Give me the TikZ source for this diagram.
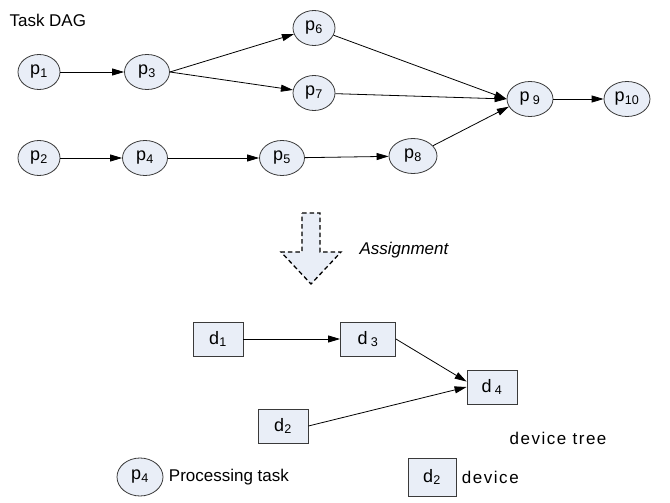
\documentclass[tikz,border=0pt]{standalone}
\usepackage{fontspec}
\setmainfont{Liberation Sans}
\newfontfamily\widefont[LetterSpace=9]{Liberation Sans}
\usetikzlibrary{shapes.geometric,arrows.meta}
\definecolor{boxfill}{HTML}{E9EEF7}
\definecolor{boxline}{HTML}{3A3A3A}
\newcommand{\ix}[1]{\textsubscript{#1}}

\begin{document}
\begin{tikzpicture}[x=1pt,y=-1pt,
  font=\fontsize{18}{21}\selectfont,
  task/.style={ellipse, draw=boxline, line width=0.8pt, fill=boxfill, minimum width=42pt, minimum height=35pt, inner sep=0pt},
  dev/.style={rectangle, draw=boxline, line width=0.8pt, fill=boxfill, minimum width=50pt, minimum height=34pt, inner sep=0pt},
  label/.style={font=\fontsize{17}{20}\selectfont},
  link/.style={-{Triangle[length=12pt,width=7pt]}, black, line width=0.8pt}]
\useasboundingbox (0,0) rectangle (670,503);

% task graph
\node[anchor=west, label] (title) at (6,20) {Task DAG};
\node[task] (p1) at (39,72) {p\ix{1}};
\node[task, minimum width=45pt] (p3) at (147,72) {p\ix{3}};
\node[task] (p6) at (314,28) {p\ix{6}};
\node[task] (p7) at (314,93) {p\ix{7}};
\node[task, minimum width=46pt] (p9) at (530,99) {p\,\ix{9}};
\node[task, minimum width=46pt] (p10) at (627,99) {p\ix{10}};
\node[task] (p2) at (39,158) {p\ix{2}};
\node[task, minimum width=45pt] (p4) at (145,158) {p\ix{4}};
\node[task, minimum width=45pt] (p5) at (282,158) {p\ix{5}};
\node[task, minimum width=48pt] (p8) at (413,156) {p\ix{8}};

\draw[link] (p1) -- (p3);
\draw[link] (p3.east) -- (p6);
\draw[link] (p3.east) -- (p7);
\draw[link] (p6) -- (p9.west);
\draw[link] (p7) -- (p9.west);
\draw[link] (p8) -- (p9.200);
\draw[link] (p9) -- (p10);
\draw[link] (p2) -- (p4);
\draw[link] (p4) -- (p5);
\draw[link] (p5) -- (p8);

% assignment arrow
\filldraw[fill=boxfill, draw=black, line width=1.3pt, dash pattern=on 4.5pt off 3pt]
  (302,213) -- (320,213) -- (320,252) -- (341,252) -- (311,284)
  -- (281,252) -- (302,252) -- cycle;
\node[anchor=west, font=\fontsize{17}{20}\selectfont\itshape] (assign) at (356,250) {Assignment};

% device tree
\node[dev] (d1) at (218,339) {d\ix{1}};
\node[dev, minimum width=55pt] (d3) at (368,339) {d\,\ix{3}};
\node[dev] (d4) at (492,387) {d\,\ix{4}};
\node[dev] (d2) at (283,426) {d\ix{2}};
\node[font=\fontsize{17}{20}\widefont] (tree) at (558,438) {device tree};

\draw[link] (d1) -- (d3);
\draw[link] (d3.east) -- (d4.168);
\draw[link] (d2.east) -- (d4.west);

% legend
\node[task, minimum width=46pt, minimum height=38pt] (ltask) at (140,477) {p\ix{4}};
\node[anchor=west, label, xshift=2pt] (ltasktxt) at (ltask.east) {Processing task};
\node[dev, minimum width=48pt, minimum height=38pt] (ldev) at (432,477) {d\ix{2}};
\node[anchor=west, font=\fontsize{17}{20}\widefont, xshift=2pt] (ldevtxt) at (ldev.east) {device};
\end{tikzpicture}
\end{document}
